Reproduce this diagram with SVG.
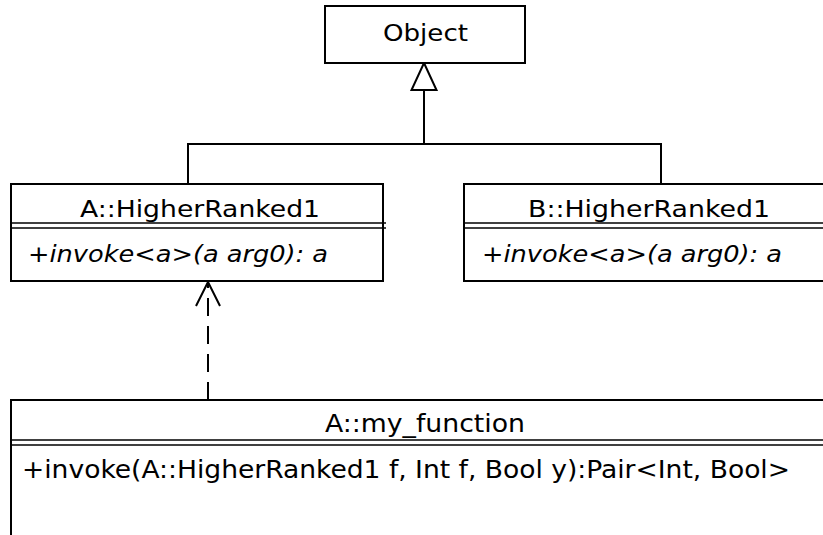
<svg xmlns="http://www.w3.org/2000/svg" width="823" height="535" viewBox="0 0 823 535">
  <style>
    .box { fill: #ffffff; stroke: #000000; stroke-width: 2; }
    .sep { stroke: #000000; stroke-width: 1.6; fill: none; }
    .edge { stroke: #000000; stroke-width: 2; fill: none; }
    .dash { stroke: #000000; stroke-width: 2; fill: none; stroke-dasharray: 18 10; }
    .name { font-family: "DejaVu Sans", "Liberation Sans", sans-serif; font-size: 23px; fill: #000000; }
    .op { font-family: "DejaVu Sans", "Liberation Sans", sans-serif; font-size: 23px; font-style: italic; fill: #000000; }
    .cond { font-family: "DejaVu Sans Condensed", "DejaVu Sans", sans-serif; font-size: 25px; fill: #000000; }
  </style>
  <rect width="823" height="535" fill="#ffffff"/>

  <!-- connectors -->
  <g id="connectors">
    <!-- generalization tree to Object -->
    <path class="edge" d="M188,184 V144 H661 V184"/>
    <path class="edge" d="M424,144 V90"/>
    <polygon class="box" points="424,63 411.5,90 436.5,90"/>
    <!-- dependency from A::my_function to A::HigherRanked1 -->
    <line class="dash" x1="208" y1="400" x2="208" y2="284"/>
    <polyline class="edge" points="196,306 208,282 220,306"/>
  </g>

  <g id="object">
    <rect class="box" x="325" y="6" width="200" height="57"/>
    <text class="name" x="383" y="41" font-size="25" textLength="85" lengthAdjust="spacingAndGlyphs">Object</text>
  </g>

  <g id="a-higherranked1">
    <rect class="box" x="11" y="184" width="372" height="97"/>
    <line class="sep" x1="11" y1="223" x2="386" y2="223"/>
    <line class="sep" x1="11" y1="228" x2="386" y2="228"/>
    <text class="name" x="80" y="217" textLength="240" lengthAdjust="spacingAndGlyphs">A::HigherRanked1</text>
    <text class="op" x="28" y="262" textLength="300" lengthAdjust="spacingAndGlyphs">+invoke&lt;a&gt;(a arg0): a</text>
  </g>

  <g id="b-higherranked1">
    <rect class="box" x="464" y="184" width="400" height="97"/>
    <line class="sep" x1="464" y1="223" x2="830" y2="223"/>
    <line class="sep" x1="464" y1="228" x2="830" y2="228"/>
    <text class="name" x="528" y="217" textLength="242" lengthAdjust="spacingAndGlyphs">B::HigherRanked1</text>
    <text class="op" x="482" y="262" textLength="300" lengthAdjust="spacingAndGlyphs">+invoke&lt;a&gt;(a arg0): a</text>
  </g>

  <g id="a-my-function">
    <rect class="box" x="11" y="400" width="850" height="200"/>
    <line class="sep" x1="11" y1="440" x2="861" y2="440"/>
    <line class="sep" x1="11" y1="445" x2="861" y2="445"/>
    <text class="cond" x="325" y="432" textLength="200" lengthAdjust="spacingAndGlyphs">A::my_function</text>
    <text class="cond" x="22" y="478" textLength="768" lengthAdjust="spacingAndGlyphs">+invoke(A::HigherRanked1 f, Int f, Bool y):Pair&lt;Int, Bool&gt;</text>
  </g>
</svg>
